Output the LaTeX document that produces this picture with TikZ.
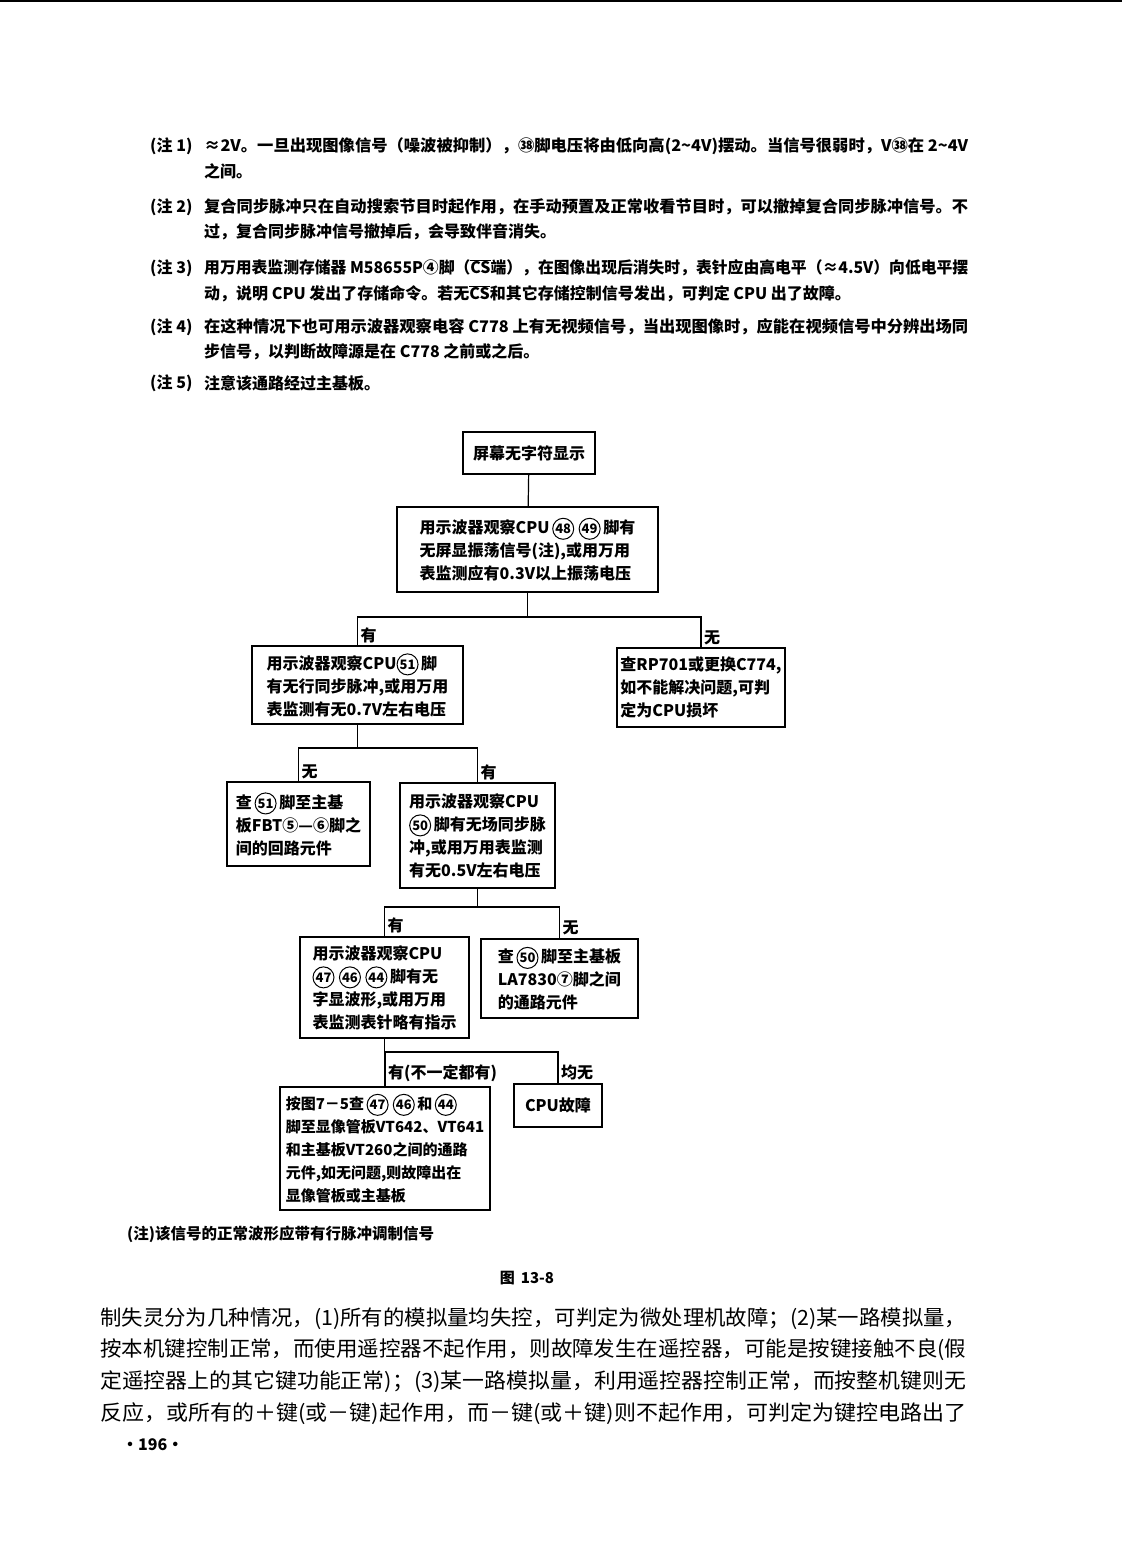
\documentclass[tikz,border=0pt]{standalone}
\usepackage{fontspec}
\usepackage{graphicx}
\usetikzlibrary{positioning}
\setmainfont{Noto Sans CJK SC}
\newcommand{\notefont}{\fontsize{16}{16}\selectfont\bfseries}
\newcommand{\boxfont}{\fontsize{16}{23}\selectfont\bfseries}
\newcommand{\parafont}{\fontsize{21}{21}\selectfont}
\newcommand{\cn}[1]{\tikz[baseline=(c.base)]\node[shape=circle,draw=black,line width=1pt,inner sep=0pt,minimum size=21pt,font=\fontsize{13}{13}\selectfont\bfseries] (c) {#1};}
\newcommand{\fline}[2]{\resizebox{#1pt}{\height}{#2}}
\begin{document}
\begin{tikzpicture}[x=1pt,y=-1pt,
  box/.style={shape=rectangle,draw=black,line width=1.2pt,align=left,inner sep=2pt,font=\boxfont},
  link/.style={draw=black,line width=1.2pt},
  lab/.style={inner sep=0pt,font=\boxfont},
  note/.style={anchor=west,inner sep=0pt,font=\notefont},
  para/.style={anchor=west,inner sep=0pt,font=\parafont}]
  \useasboundingbox (0,0) rectangle (1122,1568);
  \draw[line width=1.5pt] (0,1) -- (1122,1); 

  % notes
  \node[note] (n1) at (150,146) {(注 1)};
  \node[note] (n1a) at (204,146) {\fline{764}{≈2V。一旦出现图像信号（噪波被抑制），㊳脚电压将由低向高(2\textasciitilde 4V)摆动。当信号很弱时，V㊳在 2\textasciitilde 4V}};
  \node[note] (n1b) at (204,171) {之间。};
  \node[note] (n2) at (150,207) {(注 2)};
  \node[note] (n2a) at (204,207) {\fline{764}{复合同步脉冲只在自动搜索节目时起作用，在手动预置及正常收看节目时，可以撤掉复合同步脉冲信号。不}};
  \node[note] (n2b) at (204,232) {过，复合同步脉冲信号撤掉后，会导致伴音消失。};
  \node[note] (n3) at (150,268) {(注 3)};
  \node[note] (n3a) at (204,268) {\fline{764}{用万用表监测存储器 M58655P④脚（$\overline{\mbox{CS}}$端），在图像出现后消失时，表针应由高电平（≈4.5V）向低电平摆}};
  \node[note] (n3b) at (204,294) {动，说明 CPU 发出了存储命令。若无$\overline{\mbox{CS}}$和其它存储控制信号发出，可判定 CPU 出了故障。};
  \node[note] (n4) at (150,327) {(注 4)};
  \node[note] (n4a) at (204,327) {\fline{764}{在这种情况下也可用示波器观察电容 C778 上有无视频信号，当出现图像时，应能在视频信号中分辨出场同}};
  \node[note] (n4b) at (204,352) {步信号，以判断故障源是在 C778 之前或之后。};
  \node[note] (n5) at (150,383) {(注 5)};
  \node[note] (n5a) at (204,383) {注意该通路经过主基板。};

  % vertices
  \node[box,minimum width=132,minimum height=42] (b1) at (529,453) {屏幕无字符显示};
  \node[box,minimum width=261,minimum height=85] (b2) at (527.5,549.5) {用示波器观察CPU\,\cn{48}\;\cn{49}\,脚有\\无屏显振荡信号(注),或用万用\\表监测应有0.3V以上振荡电压};
  \node[box,minimum width=211,minimum height=78] (b3) at (357.5,685) {用示波器观察CPU\cn{51}\,脚\\有无行同步脉冲,或用万用\\表监测有无0.7V左右电压};
  \node[box,minimum width=168,minimum height=79] (b4) at (701,687.5) {查RP701或更换C774,\\如不能解决问题,可判\\定为CPU损坏};
  \node[box,minimum width=143,minimum height=84] (b5) at (298.5,824) {查\,\cn{51}\,脚至主基\\板FBT⑤—⑥脚之\\间的回路元件};
  \node[box,minimum width=155,minimum height=105] (b6) at (477.5,835.5) {用示波器观察CPU\\\cn{50}\,脚有无场同步脉\\冲,或用万用表监测\\有无0.5V左右电压};
  \node[box,line width=2.4pt,minimum width=169,minimum height=101] (b7) at (384.5,987.5) {用示波器观察CPU\\\cn{47}\;\cn{46}\;\cn{44}\,脚有无\\字显波形,或用万用\\表监测表针略有指示};
  \node[box,minimum width=157,minimum height=79] (b8) at (559.5,978.5) {查\,\cn{50}\,脚至主基板\\LA7830⑦脚之间\\的通路元件};
  \node[box,font=\fontsize{15}{23}\selectfont\bfseries,minimum width=210,minimum height=123] (b9) at (385,1148.5) {按图7－5查\,\cn{47}\;\cn{46}\,和\,\cn{44}\\脚至显像管板VT642、VT641\\和主基板VT260之间的通路\\元件,如无问题,则故障出在\\显像管板或主基板};
  \node[box,minimum width=88,minimum height=43] (b10) at (558,1105.5) {CPU故障};

  % edges
  \coordinate (s1) at (527.5,617);
  \coordinate (s2) at (357.5,748);
  \coordinate (s3) at (477.5,907);
  \coordinate (s4) at (384.5,1052);
  \draw[link] (b1) -- (b2);
  \draw[link] (b2.south) -- (s1);
  \draw[link] (b3.north) |- (s1) -| (b4.north);
  \draw[link] (b3.south) -- (s2);
  \draw[link] (b5.north) |- (s2) -| (b6.north);
  \draw[link] (b6.south) -- (s3);
  \draw[link] (b7.north) |- (s3) -| (b8.north);
  \draw[link] (b7.south) -- (s4);
  \draw[link] (b9.north) |- (s4) -| (b10.north);

  % labels
  \node[lab,above right=2pt and 3pt of b3.north] (l3) {有};
  \node[lab,above right=2pt and 3pt of b4.north] (l4) {无};
  \node[lab,above right=2pt and 3pt of b5.north] (l5) {无};
  \node[lab,above right=2pt and 3pt of b6.north] (l6) {有};
  \node[lab,above right=3pt and 3pt of b7.north] (l7) {有};
  \node[lab,above right=3pt and 3pt of b8.north] (l8) {无};
  \node[lab,above right=4pt and 3pt of b9.north] (l9) {有(不一定都有)};
  \node[lab,above right=3pt and 3pt of b10.north] (l10) {均无};

  % caption
  \node[note,font=\fontsize{15.5}{15.5}\selectfont\bfseries] (cap) at (127,1234) {(注)该信号的正常波形应带有行脉冲调制信号};
  \node[inner sep=0pt,font=\fontsize{15}{15}\selectfont\bfseries] (fig) at (527,1278) {图\, 13-8};

  % text
  \node[para] (p1) at (100,1319) {\fline{866}{制失灵分为几种情况，(1)所有的模拟量均失控，可判定为微处理机故障；(2)某一路模拟量，}};
  \node[para] (p2) at (100,1350) {\fline{866}{按本机键控制正常，而使用遥控器不起作用，则故障发生在遥控器，可能是按键接触不良(假}};
  \node[para] (p3) at (100,1382) {\fline{866}{定遥控器上的其它键功能正常)；(3)某一路模拟量，利用遥控器控制正常，而按整机键则无}};
  \node[para] (p4) at (100,1414) {\fline{866}{反应，或所有的＋键(或－键)起作用，而－键(或＋键)则不起作用，可判定为键控电路出了}};
  \node[note,font=\fontsize{16}{16}\selectfont\bfseries] (pg) at (122,1445) {·196·};
\end{tikzpicture}
\end{document}
